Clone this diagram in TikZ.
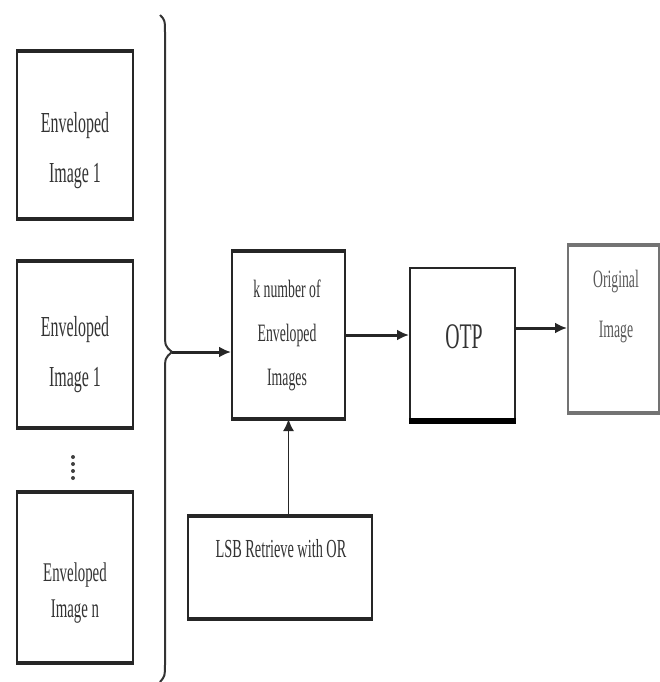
\documentclass[tikz,border=0pt]{standalone}
\usepackage{fontspec}
\setmainfont{Liberation Serif}[FakeStretch=0.55]
\usetikzlibrary{arrows.meta}

\begin{document}
\begin{tikzpicture}[x=1pt,y=-1pt,
  block/.style={draw=black!85,line width=2pt,inner sep=0pt},
  words/.style={text=black!80,align=center,inner sep=0pt,font=\fontsize{26}{44}\selectfont},
  flow/.style={-{Latex[length=12pt,width=11pt]},line width=3pt,black!85}]
  \useasboundingbox (0,0) rectangle (659,682);
  % enveloped images on the left
  \node[block,minimum width=116,minimum height=166] (env1) at (75,135) {};
  \node[block,minimum width=116,minimum height=165] (env2) at (75,344.5) {};
  \node[block,minimum width=116,minimum height=169] (env3) at (75,577.5) {};
  \node[words,font=\fontsize{29}{50}\selectfont] (env1txt) at (75,151) {Enveloped\\Image 1};
  \node[words,font=\fontsize{29}{50}\selectfont] (env2txt) at (75,355) {Enveloped\\Image 1};
  \node[words,font=\fontsize{27}{36}\selectfont] (env3txt) at (75,593) {Enveloped\\Image n};
  \foreach \d in {457,464,471,478}
    \fill[black!75] (73,\d) circle (2);
  % brace
  \coordinate (tip) at (172,352);
  \draw[line width=2pt,black!80] (160,15) .. controls (165,20) .. (165,35) -- (165,332)
    .. controls (165,346) .. (tip) .. controls (165,358) .. (165,372) -- (165,664)
    .. controls (165,676) .. (160,682);
  % middle and right
  \node[block,minimum width=113,minimum height=166] (knum) at (288.5,335) {};
  \node[words,font=\fontsize{25}{44}\selectfont] (knumtxt) at (287,335) {k number of\\Enveloped\\Images};
  \node[block,minimum width=105,minimum height=152] (otp) at (462.5,344) {};
  \node[words,font=\fontsize{36}{40}\selectfont] (otptxt) at (464,337) {OTP};
  \node[block,draw=black!55,minimum width=91,minimum height=166] (orig) at (613.5,329) {};
  \node[words,text=black!65,font=\fontsize{25}{50}\selectfont] (origtxt) at (616,307) {Original\\Image};
  \node[block,minimum width=184,minimum height=101] (lsb) at (280,567.5) {};
  \node[words] (lsbtxt) at (281,549) {LSB Retrieve with OR};
  % heavier top and bottom edges
  \foreach \b in {env1,env2,env3,knum,lsb}
    \draw[line width=3.5pt,black!85] (\b.north west) -- (\b.north east) (\b.south west) -- (\b.south east);
  \draw[line width=5.5pt] (otp.south west) -- (otp.south east);
  \draw[line width=3.5pt,black!55] (orig.north west) -- (orig.north east) (orig.south west) -- (orig.south east);
  % connectors
  \draw[flow] (tip) -- (tip -| knum.west);
  \draw[flow] (knum.east) -- (knum.east -| otp.west);
  \draw[flow] ([yshift=16pt]otp.east) -- ([yshift=16pt]otp.east -| orig.west);
  \draw[flow,line width=1.6pt] (lsb.north -| knum.south) -- (knum.south);
\end{tikzpicture}
\end{document}
